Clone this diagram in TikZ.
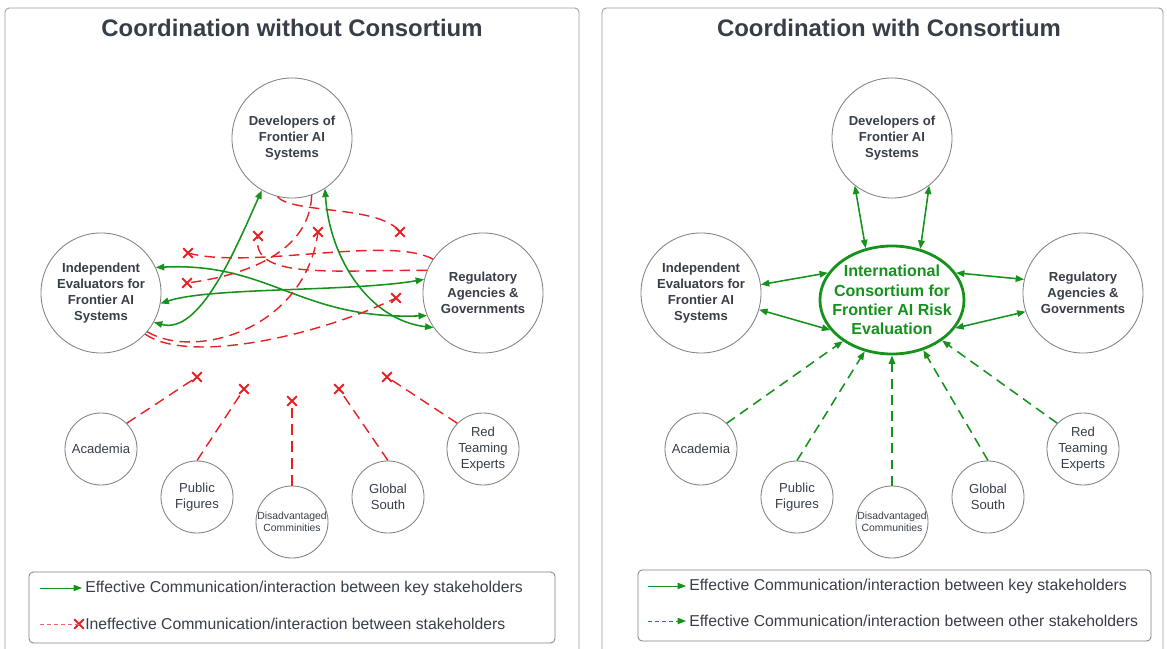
\documentclass[tikz,border=0pt]{standalone}
\usepackage{fontspec}
\setmainfont{Liberation Sans}
\usepackage{tikz}
\usetikzlibrary{
  arrows.meta,
  shapes.geometric,
  shapes.misc
}
\definecolor{ink}{RGB}{55,62,72}
\definecolor{leafgreen}{RGB}{20,146,28}
\definecolor{alarmred}{RGB}{232,32,36}
\definecolor{rim}{RGB}{128,128,132}

\begin{document}
\begin{tikzpicture}[x=0.025cm, y=-0.025cm,
  frame/.style={draw=rim!80, line width=0.6pt, rounded corners=3pt},
  legendbox/.style={draw=rim, line width=0.6pt, rounded corners=3pt},
  title/.style={text=ink, font=\fontsize{17}{20}\selectfont\bfseries},
  stake/.style={circle, draw=rim, line width=0.6pt, minimum size=3cm, inner sep=0pt,
    align=center, text=ink, font=\fontsize{9.3}{11.4}\selectfont\bfseries},
  minor/.style={circle, draw=rim, line width=0.6pt, minimum size=1.8cm, inner sep=0pt,
    align=center, text=ink, font=\fontsize{9.3}{11.4}\selectfont},
  smalltext/.style={font=\fontsize{7.4}{8.6}\selectfont},
  hub/.style={ellipse, draw=leafgreen, line width=2pt, minimum width=3.6cm,
    minimum height=2.7cm, inner sep=0pt},
  hubtext/.style={align=center, text=leafgreen, font=\fontsize{11.4}{13.7}\selectfont\bfseries},
  good/.style={leafgreen, line width=1.1pt, >={Triangle[length=6pt,width=4.6pt]}},
  other/.style={good, dash pattern=on 7pt off 4.5pt},
  bad/.style={alarmred, line width=1pt, dash pattern=on 7.5pt off 4.5pt},
  xmark/.style={cross out, draw=alarmred, line width=1.3pt, minimum size=5.5pt, inner sep=0pt},
  legtext/.style={anchor=west, inner sep=0pt, text=ink, font=\fontsize{11.2}{13}\selectfont}
]
\useasboundingbox (0,0) rectangle (1167,649);

% left panel
\draw[frame] (5,8) rectangle (579,690);
\node[title] (ltitle) at (292,28) {Coordination without Consortium};

\node[stake] (dev) at (292,138) {Developers of\\Frontier AI\\Systems};
\node[stake] (ind) at (101,293) {Independent\\Evaluators for\\Frontier AI\\Systems};
\node[stake] (reg) at (483,293) {Regulatory\\Agencies \&\\Governments};

\node[minor] (aca) at (101,449) {Academia};
\node[minor] (pub) at (197,497) {Public\\Figures};
\node[minor, smalltext] (dis) at (292,522) {Disadvantaged\\Comminities};
\node[minor] (glo) at (388,497) {Global\\South};
\node[minor] (rte) at (483,449) {Red\\Teaming\\Experts};

% crosses where the talk breaks off
\node[xmark] (x1) at (188,253) {};
\node[xmark] (x2) at (258,236) {};
\node[xmark] (x3) at (318,232) {};
\node[xmark] (x4) at (400,232) {};
\node[xmark] (x5) at (187,283) {};
\node[xmark] (x6) at (396,298) {};
\node[xmark] (x7) at (197,377) {};
\node[xmark] (x8) at (244,389) {};
\node[xmark] (x9) at (292,401) {};
\node[xmark] (x10) at (339,389) {};
\node[xmark] (x11) at (387,377) {};

% key stakeholders
\draw[good, <->] (ind.-29) .. controls (200,335) and (235,250) .. (dev.-120);
\draw[good, <->] (dev.-57) .. controls (330,260) and (370,320) .. (reg.-145);
\draw[good, <->] (ind.25) .. controls (270,262) and (300,320) .. (reg.-158);
\draw[good, <->] (ind.-10) .. controls (210,287) and (350,292) .. (reg.167);

\draw[bad] (dev.-104) .. controls (292,214) and (380,205) .. (x4.center);
\draw[bad] (dev.-71) .. controls (310,250) and (250,275) .. (x5.center);
\draw[bad] (ind.-40) .. controls (195,360) and (305,330) .. (x3.center);
\draw[bad] (ind.-43) .. controls (190,365) and (320,335) .. (x6.center);
\draw[bad] (reg.146) .. controls (390,235) and (250,270) .. (x1.center);
\draw[bad] (reg.158) .. controls (330,270) and (250,280) .. (x2.center);

% other stakeholders
\draw[bad] (aca.45) -- (x7.center);
\draw[bad] (pub.90) -- (x8.center);
\draw[bad] (dis.90) -- (x9.center);
\draw[bad] (glo.90) -- (x10.center);
\draw[bad] (rte.135) -- (x11.center);

% left legend
\draw[legendbox] (29,572) rectangle (555,643);
\coordinate (la) at (40,588);
\coordinate (lb) at (82,588);
\draw[good, ->, line width=0.7pt] (la) -- (lb);
\node[legtext] (lt1) at (85,588) {Effective Communication/interaction between key stakeholders};
\coordinate (lc) at (40,624);
\node[xmark] (lx) at (79,624) {};
\draw[bad, draw=alarmred!70, line width=0.6pt, dash pattern=on 3pt off 2pt] (lc) -- (lx.center);
\node[legtext] (lt2) at (85,624) {Ineffective Communication/interaction between stakeholders};

% right panel
\draw[frame] (602,8) rectangle (1163,690);
\node[title] (rtitle) at (889,28) {Coordination with Consortium};

\node[stake] (dev2) at (892,138) {Developers of\\Frontier AI\\Systems};
\node[stake] (ind2) at (701,293) {Independent\\Evaluators for\\Frontier AI\\Systems};
\node[stake] (reg2) at (1083,293) {Regulatory\\Agencies \&\\Governments};
\node[hub] (cons) at (892,300) {};
\node[hubtext] (constext) at (cons) {International\\Consortium for\\Frontier AI Risk\\Evaluation};

\node[minor] (aca2) at (701,449) {Academia};
\node[minor] (pub2) at (797,497) {Public\\Figures};
\node[minor, smalltext] (dis2) at (892,522) {Disadvantaged\\Communities};
\node[minor] (glo2) at (988,497) {Global\\South};
\node[minor] (rte2) at (1083,449) {Red\\Teaming\\Experts};

\draw[good, <->] (dev2.-128) -- (cons.117);
\draw[good, <->] (dev2.-52) -- (cons.61);
\draw[good, <->] (ind2.8) -- (cons.157);
\draw[good, <->] (ind2.-16) -- (cons.-154);
\draw[good, <->] (reg2.167) -- (cons.23);
\draw[good, <->] (reg2.-162) -- (cons.-24);

\draw[other, ->] (aca2.45) -- (cons.-140);
\draw[other, ->] (pub2.90) -- (cons.-118);
\draw[other, ->] (dis2.90) -- (cons.-90);
\draw[other, ->] (glo2.90) -- (cons.-58);
\draw[other, ->] (rte2.135) -- (cons.-39);

% right legend
\draw[legendbox] (638,570) rectangle (1151,641);
\coordinate (ra) at (648,586);
\coordinate (rb) at (686,586);
\draw[good, ->, line width=0.7pt] (ra) -- (rb);
\node[legtext] (rt1) at (689,586) {Effective Communication/interaction between key stakeholders};
\coordinate (rc) at (648,621);
\coordinate (rd) at (686,621);
\draw[good, ->, line width=0.7pt, dash pattern=on 3pt off 2pt] (rc) -- (rd);
\node[legtext] (rt2) at (689,621) {Effective Communication/interaction between other stakeholders};
\end{tikzpicture}
\end{document}
